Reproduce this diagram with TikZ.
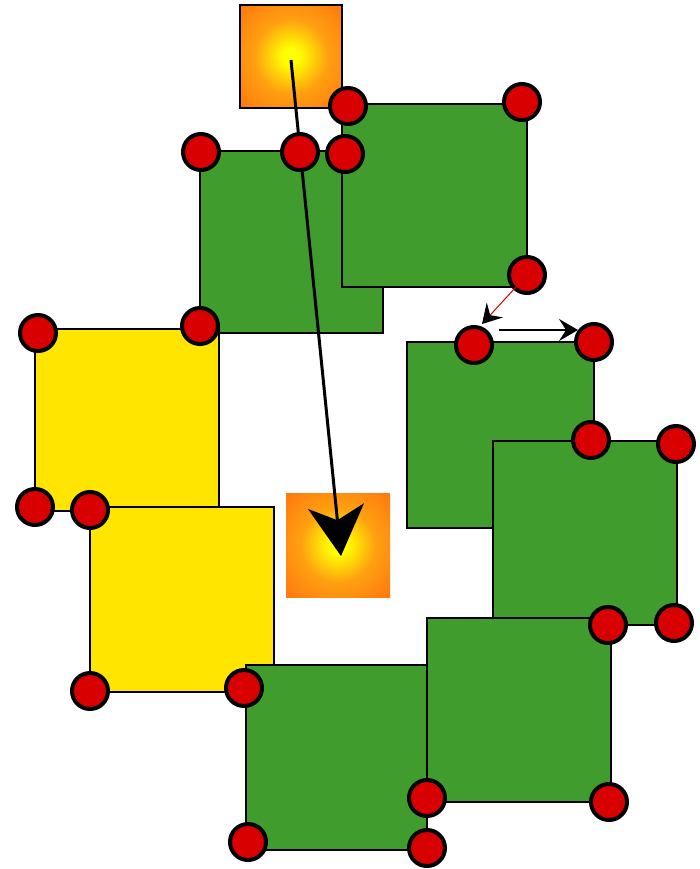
\documentclass[tikz,border=0pt]{standalone}
\usetikzlibrary{arrows.meta}
\definecolor{sqgreen}{HTML}{409C2C}
\definecolor{sqyellow}{HTML}{FFE500}
\definecolor{hred}{HTML}{D80000}
\definecolor{gorange}{HTML}{FF7A10}
\definecolor{gmid}{HTML}{FFA010}
\definecolor{gyellow}{HTML}{FFFF00}
\pgfdeclareradialshading{glow}{\pgfpoint{0bp}{0bp}}{color(0bp)=(gyellow); color(4bp)=(gyellow); color(18bp)=(gmid); color(34bp)=(gorange); color(50bp)=(gorange)}
\tikzset{
  sqbase/.style={rectangle, inner sep=0pt, outer sep=0pt, line width=1.6pt, draw=black},
  greenbox/.style={sqbase, fill=sqgreen},
  yellowbox/.style={sqbase, fill=sqyellow},
  glowbox/.style={rectangle, inner sep=0pt, outer sep=0pt, shading=glow},
  handle/.style={circle, fill=hred, draw=black, line width=4pt, minimum size=36pt, inner sep=0pt},
  bigarrow/.style={line width=3pt, -{Stealth[length=50pt, width=56pt, inset=14pt]}},
  smallred/.style={line width=1pt, draw=red!85!black, -{Stealth[length=19pt, width=22pt, inset=7pt, black]}},
  smallblack/.style={line width=1.4pt, -{Stealth[length=19pt, width=22pt, inset=7pt]}}
}
\begin{document}
\begin{tikzpicture}[x=1pt, y=-1pt]
\useasboundingbox (0,0) rectangle (700,869);
% squares
\node[glowbox, draw=black, line width=1.4pt, minimum width=102pt, minimum height=103pt] (topglow) at (291,56.5) {};
\node[greenbox, minimum width=183pt, minimum height=182pt] (ga) at (291.5,242) {};
\node[greenbox, minimum width=185pt, minimum height=183pt] (gb) at (434.5,195.5) {};
\node[yellowbox, minimum width=184pt, minimum height=182pt] (ya) at (127,420) {};
\node[yellowbox, minimum width=184pt, minimum height=185pt] (yb) at (182,599.5) {};
\node[greenbox, minimum width=187pt, minimum height=186pt] (ge) at (500.5,435) {};
\node[greenbox, minimum width=184pt, minimum height=184pt] (gf) at (585,533) {};
\node[greenbox, minimum width=181pt, minimum height=185pt] (gc) at (336.5,757.5) {};
\node[greenbox, minimum width=184pt, minimum height=184pt] (gd) at (519,710) {};
\node[glowbox, minimum width=104pt, minimum height=104pt] (midglow) at (338,545) {};
% big arrow
\coordinate (bigstart) at (291,60);
\coordinate (bigtip) at (341,556);
\draw[bigarrow] (bigstart) -- (bigtip);
% handles
\node[handle] (h1) at (348,106) {};
\node[handle] (h2) at (522,102) {};
\node[handle] (h3) at (201,152) {};
\node[handle] (h4) at (300,152) {};
\node[handle] (h5) at (345,154) {};
\node[handle] (h6) at (527,275) {};
\node[handle] (h7) at (200,326) {};
\node[handle] (h8) at (38,333) {};
\node[handle] (h9) at (474,345) {};
\node[handle] (h10) at (594,342) {};
\node[handle] (h11) at (591,440) {};
\node[handle] (h12) at (676,444) {};
\node[handle] (h13) at (35,507) {};
\node[handle] (h14) at (90,510) {};
\node[handle] (h15) at (608,625) {};
\node[handle] (h16) at (674,623) {};
\node[handle] (h17) at (90,691) {};
\node[handle] (h18) at (244,688) {};
\node[handle] (h19) at (427,798) {};
\node[handle] (h20) at (609,802) {};
\node[handle] (h21) at (248,842) {};
\node[handle] (h22) at (427,848) {};
% small arrows
\coordinate (redtip) at (482,324);
\coordinate (blackstart) at (499,330);
\coordinate (blacktip) at (578,330);
\draw[smallred] (h6.center) -- (redtip);
\draw[smallblack] (blackstart) -- (blacktip);
\end{tikzpicture}
\end{document}
